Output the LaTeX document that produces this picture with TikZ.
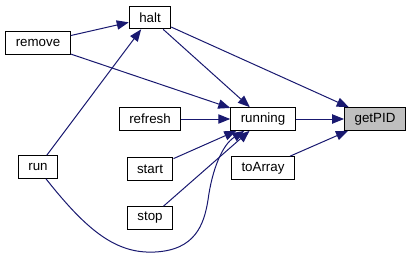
\documentclass[tikz,border=0pt]{standalone}
\usepackage{fontspec}
\setmainfont{Liberation Sans}
\usetikzlibrary{arrows.meta}

\definecolor{edgeblue}{HTML}{191970}
\definecolor{pidgray}{HTML}{BFBFBF}

\begin{document}
\begin{tikzpicture}[x=0.75pt,y=-0.75pt,
  func/.style={rectangle,draw=black,line width=0.75pt,inner xsep=7.5pt,inner ysep=0pt,
    minimum height=17pt,font=\fontsize{10}{12}\selectfont},
  call/.style={draw=edgeblue,line width=0.75pt,-{Triangle[length=9pt,width=7pt]}}]
\useasboundingbox (0,0) rectangle (411,257);
% callers on the left, getPID on the right
\path
(150,17.5) node [func] (halt) {halt}
(38,43) node [func] (remove) {remove}
(150,119) node [func] (refresh) {refresh}
(263,119) node [func] (running) {running}
(375,119) node [func,fill=pidgray] (getPID) {getPID}
(38,167) node [func] (run) {run}
(150,169) node [func] (start) {start}
(150,218) node [func] (stop) {stop}
(263,168) node [func] (toArray) {toArray}
;

\begin{scope}[every path/.style=call]
\path (remove) -- (halt);
\path (run) -- (halt);
\path (halt) -- (running);
\path (halt) -- (getPID);
\path (remove) -- (running);
\path (refresh) -- (running);
\path (start) -- (running);
\path (stop) -- (running);
\path ([xshift=6pt]run.south) .. controls (88,232) and (117,254) .. (155,252)
  .. controls (195,250) and (204,225) .. (208,200)
  .. controls (212,170) and (222,145) .. (running);
\path (running) -- (getPID);
\path (toArray) -- (getPID);
\end{scope}
\end{tikzpicture}
\end{document}
